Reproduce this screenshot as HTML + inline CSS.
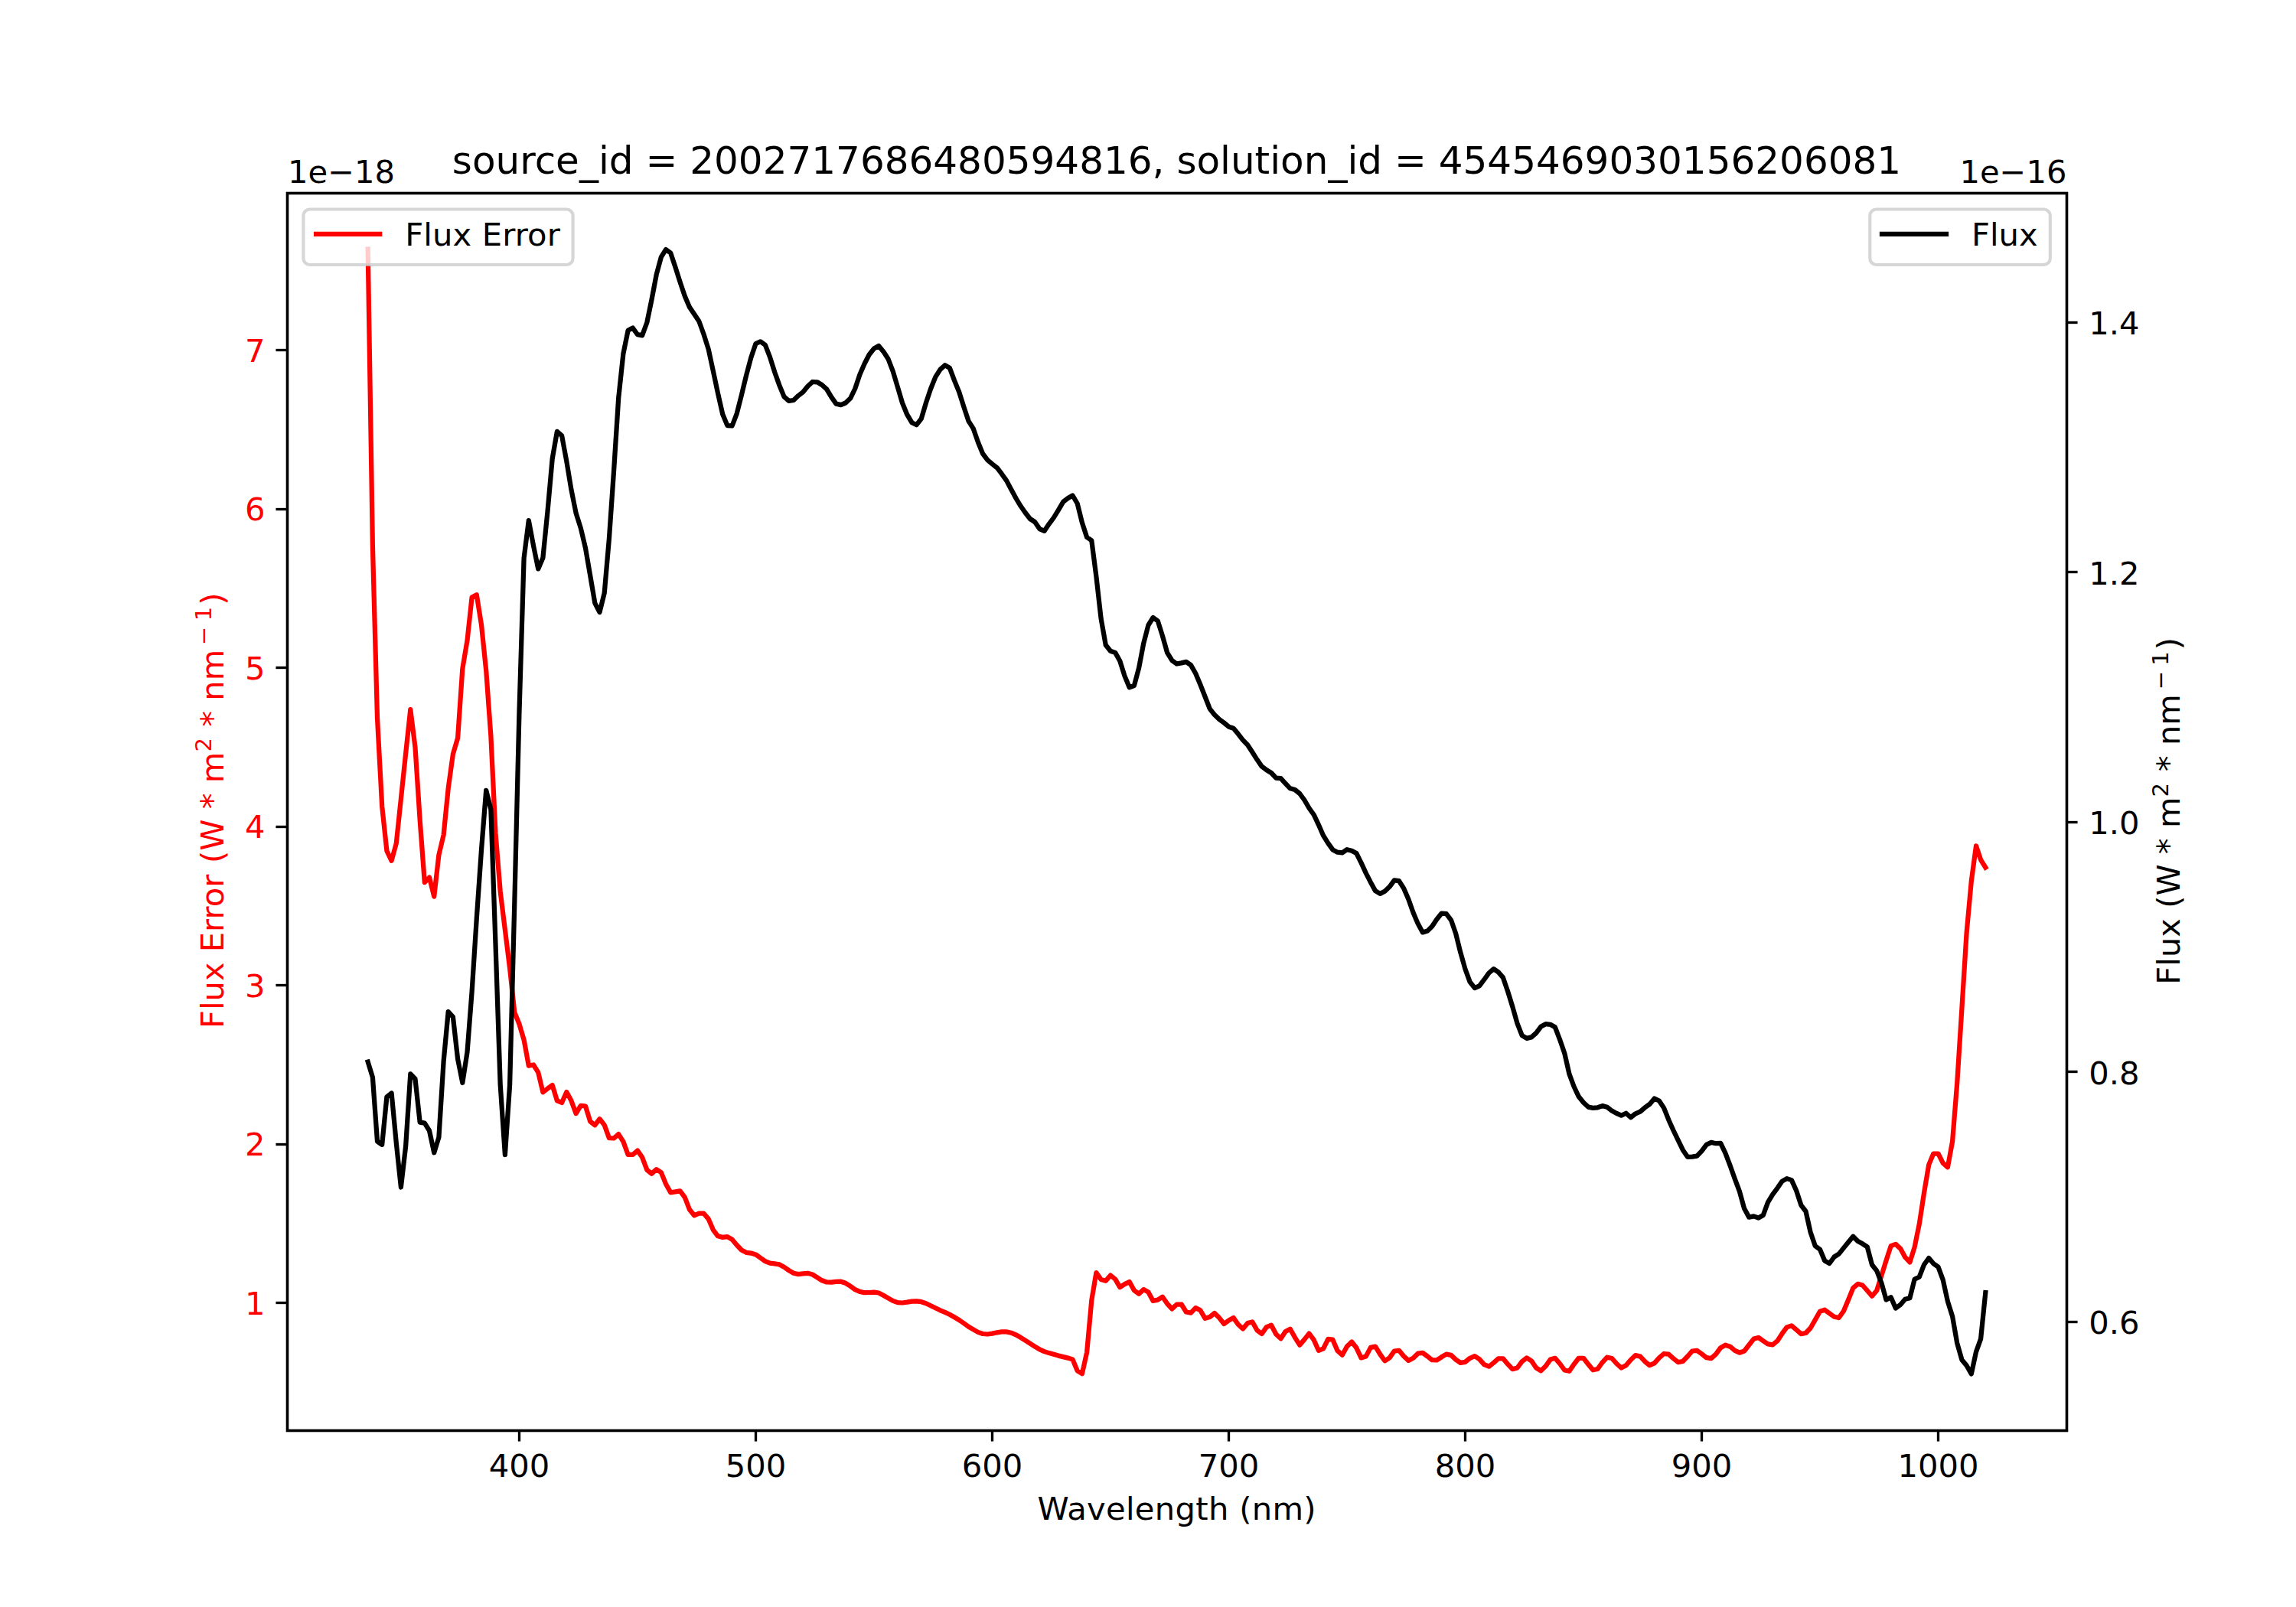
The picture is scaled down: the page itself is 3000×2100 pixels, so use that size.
<!DOCTYPE html>
<html lang="en"><head><meta charset="utf-8"><title>source_id = 2002717686480594816</title>
<style>html,body{margin:0;padding:0;background:#fff}body{width:3000px;height:2100px;overflow:hidden}svg{display:block}text{font-family:'DejaVu Sans','Liberation Sans',sans-serif;font-size:41.667px;fill:#000}.r{fill:#f00}.sp{font-size:29.167px}.ti{font-size:50px}</style></head><body>
<svg width="3000" height="2100" viewBox="0 0 3000 2100">
<rect width="3000" height="2100" fill="#fff"/>
<g stroke="#000" stroke-width="3.333" fill="none">
<line x1="678.50" y1="1869.00" x2="678.50" y2="1883.58"/>
<line x1="987.50" y1="1869.00" x2="987.50" y2="1883.58"/>
<line x1="1296.50" y1="1869.00" x2="1296.50" y2="1883.58"/>
<line x1="1605.50" y1="1869.00" x2="1605.50" y2="1883.58"/>
<line x1="1914.50" y1="1869.00" x2="1914.50" y2="1883.58"/>
<line x1="2223.50" y1="1869.00" x2="2223.50" y2="1883.58"/>
<line x1="2532.50" y1="1869.00" x2="2532.50" y2="1883.58"/>
<line x1="375.00" y1="1702.50" x2="360.42" y2="1702.50"/>
<line x1="375.00" y1="1495.50" x2="360.42" y2="1495.50"/>
<line x1="375.00" y1="1287.50" x2="360.42" y2="1287.50"/>
<line x1="375.00" y1="1080.50" x2="360.42" y2="1080.50"/>
<line x1="375.00" y1="872.50" x2="360.42" y2="872.50"/>
<line x1="375.00" y1="665.50" x2="360.42" y2="665.50"/>
<line x1="375.00" y1="457.50" x2="360.42" y2="457.50"/>
<line x1="2700.00" y1="1727.50" x2="2714.58" y2="1727.50"/>
<line x1="2700.00" y1="1400.50" x2="2714.58" y2="1400.50"/>
<line x1="2700.00" y1="1074.50" x2="2714.58" y2="1074.50"/>
<line x1="2700.00" y1="747.50" x2="2714.58" y2="747.50"/>
<line x1="2700.00" y1="421.50" x2="2714.58" y2="421.50"/>
</g>
<polyline points="480.7,325.5 486.9,714.0 493.0,938.3 499.2,1054.0 505.4,1111.8 511.6,1124.8 517.8,1102.0 523.9,1044.0 530.1,985.0 536.3,927.2 542.5,976.7 548.7,1072.0 554.8,1153.1 561.0,1146.6 567.2,1171.6 573.4,1117.2 579.6,1091.1 585.7,1030.1 591.9,985.4 598.1,964.5 604.3,874.1 610.5,837.1 616.6,780.5 622.8,777.2 629.0,816.4 635.2,876.3 641.4,962.1 647.5,1088.9 653.7,1165.1 659.9,1215.2 666.1,1265.3 672.3,1323.0 678.4,1338.0 684.6,1358.8 690.8,1392.6 697.0,1391.5 703.2,1401.3 709.4,1427.4 715.5,1422.6 721.7,1418.0 727.9,1438.3 734.1,1440.9 740.3,1427.0 746.4,1438.3 752.6,1455.1 758.8,1444.8 765.0,1445.5 771.2,1465.5 777.3,1470.3 783.5,1462.2 789.7,1470.1 795.9,1487.1 802.1,1487.5 808.2,1482.1 814.4,1491.9 820.6,1508.8 826.8,1508.8 833.0,1503.6 839.1,1512.3 845.3,1528.7 851.5,1533.7 857.7,1528.2 863.9,1532.1 870.0,1547.2 876.2,1558.3 882.4,1557.4 888.6,1556.3 894.8,1564.6 900.9,1580.5 907.1,1588.3 913.3,1585.7 919.5,1585.7 925.7,1592.9 931.8,1607.1 938.0,1615.3 944.2,1616.9 950.4,1616.1 956.6,1619.8 962.7,1627.0 968.9,1633.5 975.1,1636.8 981.3,1637.6 987.5,1639.4 993.6,1643.7 999.8,1648.1 1006.0,1650.7 1012.2,1651.4 1018.4,1652.4 1024.5,1655.7 1030.7,1660.1 1036.9,1663.8 1043.1,1665.1 1049.3,1664.4 1055.4,1663.8 1061.6,1665.5 1067.8,1669.4 1074.0,1673.3 1080.2,1675.5 1086.3,1675.7 1092.5,1674.9 1098.7,1674.7 1104.9,1676.8 1111.1,1680.7 1117.2,1685.1 1123.4,1687.9 1129.6,1689.2 1135.8,1689.0 1142.0,1688.6 1148.1,1689.5 1154.3,1692.7 1160.5,1696.4 1166.7,1699.9 1172.9,1702.1 1179.0,1702.5 1185.2,1701.7 1191.4,1700.6 1197.6,1700.3 1203.8,1701.2 1209.9,1703.2 1216.1,1706.2 1222.3,1709.3 1228.5,1712.3 1234.7,1714.9 1240.8,1717.8 1247.0,1721.3 1253.2,1725.0 1259.4,1729.3 1265.6,1733.7 1271.8,1737.4 1277.9,1740.9 1284.1,1743.0 1290.3,1743.5 1296.5,1742.6 1302.7,1741.3 1308.8,1740.4 1315.0,1740.4 1321.2,1741.7 1327.4,1744.3 1333.6,1747.8 1339.7,1751.7 1345.9,1755.7 1352.1,1759.6 1358.3,1763.3 1364.5,1766.1 1370.6,1768.1 1376.8,1769.8 1383.0,1771.6 1389.2,1773.1 1395.4,1774.6 1401.5,1776.4 1407.7,1791.4 1413.9,1795.1 1420.1,1767.4 1426.3,1699.3 1432.4,1663.1 1438.6,1672.0 1444.8,1673.8 1451.0,1666.6 1457.2,1671.6 1463.3,1682.1 1469.5,1678.1 1475.7,1675.1 1481.9,1686.2 1488.1,1690.8 1494.2,1685.1 1500.4,1688.4 1506.6,1699.9 1512.8,1698.6 1519.0,1694.7 1525.1,1703.6 1531.3,1710.4 1537.5,1704.7 1543.7,1704.5 1549.9,1714.5 1556.0,1715.6 1562.2,1709.1 1568.4,1712.3 1574.6,1722.8 1580.8,1721.0 1586.9,1716.0 1593.1,1722.1 1599.3,1730.0 1605.5,1725.4 1611.7,1722.1 1617.8,1730.8 1624.0,1736.5 1630.2,1729.1 1636.4,1727.4 1642.6,1738.5 1648.7,1743.0 1654.9,1734.1 1661.1,1731.7 1667.3,1743.5 1673.5,1749.3 1679.6,1740.0 1685.8,1736.7 1692.0,1747.8 1698.2,1757.6 1704.4,1750.4 1710.5,1742.6 1716.7,1750.9 1722.9,1764.8 1729.1,1762.4 1735.3,1749.8 1741.4,1750.7 1747.6,1765.2 1753.8,1770.7 1760.0,1759.6 1766.2,1753.5 1772.3,1761.3 1778.5,1774.4 1784.7,1772.6 1790.9,1760.9 1797.1,1759.6 1803.2,1769.6 1809.4,1778.3 1815.6,1774.4 1821.8,1765.5 1828.0,1764.8 1834.2,1772.2 1840.3,1777.9 1846.5,1774.8 1852.7,1768.7 1858.9,1767.9 1865.1,1772.4 1871.2,1777.2 1877.4,1777.4 1883.6,1773.3 1889.8,1769.6 1896.0,1770.9 1902.1,1776.6 1908.3,1780.9 1914.5,1779.8 1920.7,1774.8 1926.9,1772.2 1933.0,1776.1 1939.2,1783.1 1945.4,1785.7 1951.6,1780.9 1957.8,1775.3 1963.9,1775.3 1970.1,1782.7 1976.3,1789.2 1982.5,1787.5 1988.7,1779.2 1994.8,1774.4 2001.0,1778.3 2007.2,1787.5 2013.4,1791.2 2019.6,1785.3 2025.7,1776.6 2031.9,1774.8 2038.1,1782.0 2044.3,1790.5 2050.5,1791.8 2056.6,1782.7 2062.8,1774.8 2069.0,1774.8 2075.2,1782.7 2081.4,1790.3 2087.5,1789.0 2093.7,1780.3 2099.9,1773.7 2106.1,1775.0 2112.3,1782.0 2118.4,1787.5 2124.6,1784.2 2130.8,1777.0 2137.0,1771.1 2143.2,1772.6 2149.3,1779.2 2155.5,1784.2 2161.7,1781.4 2167.9,1774.4 2174.1,1769.0 2180.2,1769.7 2186.4,1775.1 2192.6,1780.1 2198.8,1779.0 2205.0,1772.5 2211.1,1765.5 2217.3,1764.9 2223.5,1769.2 2229.7,1774.2 2235.9,1775.1 2242.0,1769.7 2248.2,1761.2 2254.4,1757.7 2260.6,1759.7 2266.8,1764.9 2272.9,1767.7 2279.1,1765.5 2285.3,1757.5 2291.5,1749.6 2297.7,1747.9 2303.8,1752.2 2310.0,1756.4 2316.2,1757.3 2322.4,1752.2 2328.6,1742.7 2334.7,1734.4 2340.9,1732.4 2347.1,1737.7 2353.3,1743.1 2359.5,1742.0 2365.6,1735.5 2371.8,1724.6 2378.0,1713.7 2384.2,1711.7 2390.4,1716.3 2396.6,1720.7 2402.7,1722.0 2408.9,1713.3 2415.1,1698.5 2421.3,1683.2 2427.5,1677.8 2433.6,1679.5 2439.8,1686.5 2446.0,1693.7 2452.2,1686.5 2458.4,1666.9 2464.5,1647.3 2470.7,1628.1 2476.9,1625.9 2483.1,1631.6 2489.3,1642.9 2495.4,1649.5 2501.6,1629.9 2507.8,1599.4 2514.0,1559.1 2520.2,1522.1 2526.3,1507.5 2532.5,1507.5 2538.7,1519.9 2544.9,1525.3 2551.1,1491.6 2557.2,1415.4 2563.4,1318.0 2569.6,1219.0 2575.8,1151.5 2582.0,1105.3 2588.1,1123.6 2594.3,1133.6" fill="none" stroke="#f00" stroke-width="6.25" stroke-linejoin="round" stroke-linecap="square"/>
<g id="leg1">
<rect x="396.4" y="273.5" width="352.2" height="72.5" rx="8.3" ry="8.3" fill="#fff" fill-opacity="0.8" stroke="#ccc" stroke-opacity="0.8" stroke-width="4.167"/>
<line x1="413.1" y1="305.9" x2="496.2" y2="305.9" stroke="#f00" stroke-width="6.25" stroke-linecap="square"/>
<text x="529.2" y="321" textLength="202.6" lengthAdjust="spacing">Flux Error</text>
</g>
<polyline points="480.7,1387.6 486.9,1407.8 493.0,1491.6 499.2,1495.8 505.4,1433.4 511.6,1428.5 517.8,1493.8 523.9,1551.5 530.1,1498.2 536.3,1403.4 542.5,1410.0 548.7,1466.6 554.8,1467.7 561.0,1477.5 567.2,1506.3 573.4,1486.2 579.6,1387.1 585.7,1322.1 591.9,1328.8 598.1,1383.8 604.3,1415.0 610.5,1375.1 616.6,1295.9 622.8,1199.9 629.0,1110.7 635.2,1032.8 641.4,1057.8 647.5,1233.7 653.7,1417.6 659.9,1509.0 666.1,1417.6 672.3,1180.0 678.4,933.0 684.6,729.3 690.8,680.1 697.0,713.0 703.2,743.4 709.4,728.9 715.5,668.3 721.7,599.4 727.9,563.9 734.1,569.3 740.3,602.7 746.4,639.7 752.6,670.5 758.8,690.1 765.0,716.2 771.2,752.2 777.3,788.1 783.5,800.1 789.7,775.0 795.9,704.0 802.1,614.5 808.2,520.0 814.4,462.2 820.6,431.8 826.8,428.5 833.0,437.2 839.1,438.3 845.3,421.5 851.5,391.5 857.7,358.8 863.9,335.9 870.0,326.1 876.2,330.5 882.4,349.0 888.6,368.6 894.8,387.1 900.9,401.3 907.1,410.6 913.3,419.8 919.5,436.8 925.7,456.4 931.8,484.7 938.0,513.9 944.2,541.3 950.4,556.1 956.6,556.5 962.7,540.6 968.9,516.2 975.1,490.5 981.3,467.2 987.5,449.0 993.6,446.3 999.8,450.7 1006.0,466.6 1012.2,486.2 1018.4,503.6 1024.5,518.4 1030.7,523.9 1036.9,523.0 1043.1,517.1 1049.3,512.3 1055.4,504.7 1061.6,499.0 1067.8,499.3 1074.0,503.0 1080.2,508.6 1086.3,518.9 1092.5,527.6 1098.7,529.1 1104.9,526.5 1111.1,520.6 1117.2,508.0 1123.4,489.5 1129.6,475.3 1135.8,463.3 1142.0,455.5 1148.1,452.0 1154.3,459.4 1160.5,469.0 1166.7,485.1 1172.9,505.8 1179.0,526.5 1185.2,541.7 1191.4,552.2 1197.6,555.2 1203.8,547.2 1209.9,526.5 1216.1,508.0 1222.3,492.7 1228.5,482.9 1234.7,477.3 1240.8,480.7 1247.0,497.1 1253.2,512.3 1259.4,531.9 1265.6,550.4 1271.8,560.2 1277.9,577.7 1284.1,592.9 1290.3,601.2 1296.5,606.4 1302.7,611.2 1308.8,619.2 1315.0,627.9 1321.2,639.5 1327.4,651.0 1333.6,661.3 1339.7,670.0 1345.9,678.0 1352.1,682.0 1358.3,691.1 1364.5,693.9 1370.6,684.8 1376.8,676.5 1383.0,666.3 1389.2,655.8 1395.4,651.0 1401.5,647.5 1407.7,658.0 1413.9,683.0 1420.1,702.0 1426.3,706.3 1432.4,753.4 1438.6,808.3 1444.8,843.1 1451.0,850.7 1457.2,852.9 1463.3,863.8 1469.5,883.4 1475.7,898.2 1481.9,896.0 1488.1,872.9 1494.2,840.9 1500.4,817.0 1506.6,807.0 1512.8,811.5 1519.0,831.1 1525.1,852.9 1531.3,862.9 1537.5,867.5 1543.7,866.4 1549.9,864.9 1556.0,869.1 1562.2,880.0 1568.4,894.8 1574.6,910.5 1580.8,926.4 1586.9,934.0 1593.1,939.9 1599.3,944.5 1605.5,949.7 1611.7,951.7 1617.8,959.1 1624.0,967.1 1630.2,973.5 1636.4,983.0 1642.6,992.8 1648.7,1001.6 1654.9,1006.3 1661.1,1010.0 1667.3,1016.6 1673.5,1017.2 1679.6,1023.8 1685.8,1030.3 1692.0,1032.0 1698.2,1037.0 1704.4,1045.5 1710.5,1056.0 1716.7,1064.7 1722.9,1077.8 1729.1,1091.9 1735.3,1101.9 1741.4,1110.4 1747.6,1113.7 1753.8,1114.4 1760.0,1110.2 1766.2,1111.7 1772.3,1115.0 1778.5,1127.4 1784.7,1140.9 1790.9,1152.9 1797.1,1164.2 1803.2,1167.9 1809.4,1164.7 1815.6,1158.8 1821.8,1150.3 1828.0,1151.2 1834.2,1160.9 1840.3,1175.0 1846.5,1192.5 1852.7,1207.1 1858.9,1218.4 1865.1,1216.6 1871.2,1210.5 1877.4,1201.2 1883.6,1193.6 1889.8,1194.2 1896.0,1202.3 1902.1,1219.7 1908.3,1244.7 1914.5,1266.5 1920.7,1283.3 1926.9,1291.1 1933.0,1288.3 1939.2,1280.2 1945.4,1271.5 1951.6,1266.1 1957.8,1270.4 1963.9,1277.4 1970.1,1295.5 1976.3,1315.5 1982.5,1337.3 1988.7,1353.2 1994.8,1356.9 2001.0,1355.4 2007.2,1349.9 2013.4,1341.6 2019.6,1338.2 2025.7,1338.8 2031.9,1342.3 2038.1,1358.6 2044.3,1376.5 2050.5,1403.7 2056.6,1420.0 2062.8,1433.1 2069.0,1440.7 2075.2,1446.6 2081.4,1447.9 2087.5,1447.3 2093.7,1445.1 2099.9,1446.8 2106.1,1451.6 2112.3,1454.9 2118.4,1457.7 2124.6,1454.7 2130.8,1460.3 2137.0,1455.3 2143.2,1452.7 2149.3,1447.3 2155.5,1442.9 2161.7,1435.5 2167.9,1438.5 2174.1,1447.9 2180.2,1463.2 2186.4,1477.0 2192.6,1489.8 2198.8,1502.7 2205.0,1511.8 2211.1,1511.6 2217.3,1510.7 2223.5,1504.2 2229.7,1495.9 2235.9,1492.9 2242.0,1494.2 2248.2,1493.8 2254.4,1506.8 2260.6,1523.2 2266.8,1540.6 2272.9,1556.9 2279.1,1579.3 2285.3,1590.7 2291.5,1589.4 2297.7,1591.5 2303.8,1588.0 2310.0,1571.1 2316.2,1560.8 2322.4,1552.6 2328.6,1543.6 2334.7,1540.1 2340.9,1542.1 2347.1,1555.8 2353.3,1574.8 2359.5,1583.0 2365.6,1610.3 2371.8,1628.3 2378.0,1632.7 2384.2,1647.5 2390.4,1651.0 2396.6,1642.5 2402.7,1638.6 2408.9,1630.9 2415.1,1623.3 2421.3,1615.7 2427.5,1622.0 2433.6,1625.3 2439.8,1629.4 2446.0,1652.7 2452.2,1660.6 2458.4,1676.7 2464.5,1698.5 2470.7,1695.2 2476.9,1709.6 2483.1,1705.0 2489.3,1697.8 2495.4,1696.3 2501.6,1671.7 2507.8,1668.6 2514.0,1652.7 2520.2,1644.0 2526.3,1651.2 2532.5,1655.6 2538.7,1672.3 2544.9,1700.6 2551.1,1720.2 2557.2,1755.1 2563.4,1776.9 2569.6,1784.5 2575.8,1795.4 2582.0,1766.6 2588.1,1749.6 2594.3,1689.1" fill="none" stroke="#000" stroke-width="6.25" stroke-linejoin="round" stroke-linecap="square"/>
<rect x="375.5" y="252.5" width="2325.0" height="1617.0" fill="none" stroke="#000" stroke-width="3.333" stroke-linejoin="miter"/>
<rect x="375.5" y="252.5" width="2325.0" height="1617.0" fill="none" stroke="#000" stroke-width="3.333" stroke-linejoin="miter"/>
<g id="leg2">
<rect x="2443.3" y="273.5" width="235.5" height="72.5" rx="8.3" ry="8.3" fill="#fff" fill-opacity="0.8" stroke="#ccc" stroke-opacity="0.8" stroke-width="4.167"/>
<line x1="2459" y1="305.9" x2="2543" y2="305.9" stroke="#000" stroke-width="6.25" stroke-linecap="square"/>
<text x="2576" y="321">Flux</text>
</g>
<text x="678.50" y="1929.5" text-anchor="middle">400</text>
<text x="987.50" y="1929.5" text-anchor="middle">500</text>
<text x="1296.50" y="1929.5" text-anchor="middle">600</text>
<text x="1605.50" y="1929.5" text-anchor="middle">700</text>
<text x="1914.50" y="1929.5" text-anchor="middle">800</text>
<text x="2223.50" y="1929.5" text-anchor="middle">900</text>
<text x="2532.50" y="1929.5" text-anchor="middle">1000</text>
<text class="r" x="346.6" y="1717.90" text-anchor="end">1</text>
<text class="r" x="346.6" y="1510.40" text-anchor="end">2</text>
<text class="r" x="346.6" y="1302.90" text-anchor="end">3</text>
<text class="r" x="346.6" y="1095.40" text-anchor="end">4</text>
<text class="r" x="346.6" y="887.90" text-anchor="end">5</text>
<text class="r" x="346.6" y="680.40" text-anchor="end">6</text>
<text class="r" x="346.6" y="472.90" text-anchor="end">7</text>
<text x="2729.2" y="1743.30">0.6</text>
<text x="2729.2" y="1416.78">0.8</text>
<text x="2729.2" y="1090.26">1.0</text>
<text x="2729.2" y="763.74">1.2</text>
<text x="2729.2" y="437.22">1.4</text>
<text x="376" y="238.5">1e−18</text>
<text x="2700.5" y="238.5" text-anchor="end">1e−16</text>
<text class="ti" x="1537.5" y="227.4" text-anchor="middle">source_id = 2002717686480594816, solution_id = 4545469030156206081</text>
<text x="1537.5" y="1986" text-anchor="middle" textLength="364.2" lengthAdjust="spacing">Wavelength (nm)</text>
<text class="r" transform="translate(291.5,1059.25) rotate(-90)" text-anchor="middle">Flux Error <tspan dx="1.5">(W * m</tspan><tspan class="sp" dy="-15.2">2</tspan><tspan dy="15.2" dx="1"> * nm</tspan><tspan class="sp" dy="-15.2" dx="5.5">−</tspan><tspan class="sp" dx="7.5">1</tspan><tspan dy="15.2" dx="2">)</tspan></text>
<text transform="translate(2848,1059.75) rotate(-90)" text-anchor="middle">Flux (W * m<tspan class="sp" dy="-15.2">2</tspan><tspan dy="15.2" dx="1.5"> * nm</tspan><tspan class="sp" dy="-15.2" dx="6">−</tspan><tspan class="sp" dx="7">1</tspan><tspan dy="15.2" dx="2">)</tspan></text>
</svg></body></html>
